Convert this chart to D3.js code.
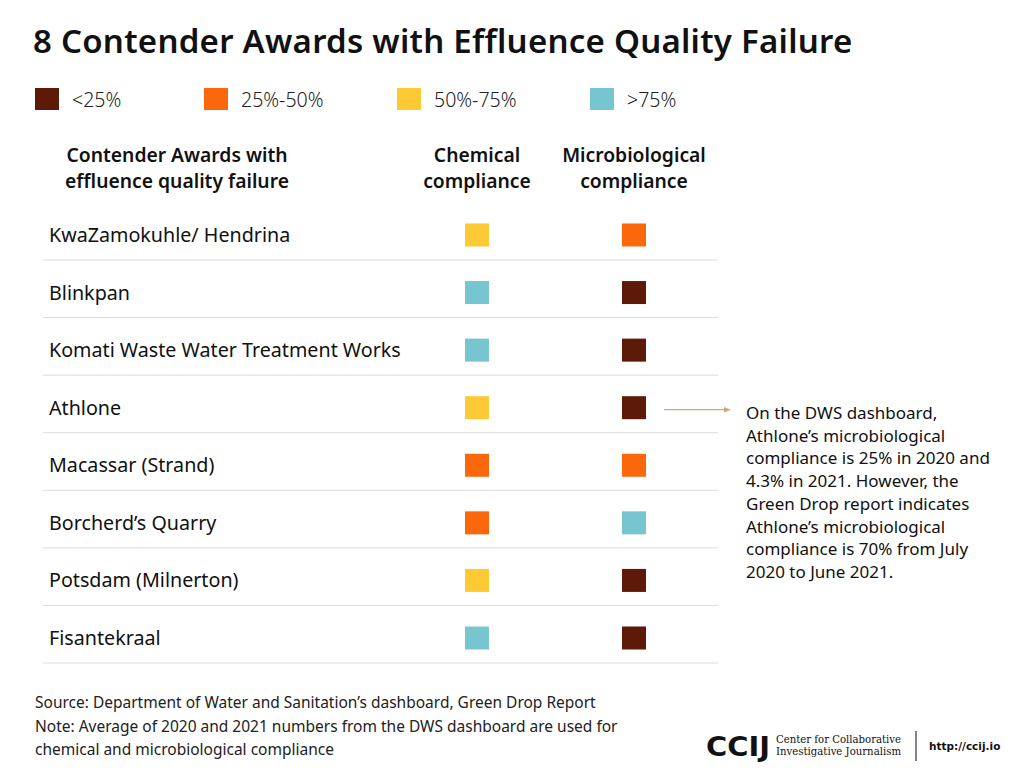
<!DOCTYPE html>
<html><head><meta charset="utf-8">
<script src="https://cdn.jsdelivr.net/npm/d3@7"></script>
<style>
body{margin:0;background:#fff;}
svg{display:block;}
</style></head>
<body>
<svg id="chart" width="1024" height="781"></svg>
<script>
const title = "8 Contender Awards with Effluence Quality Failure";
const legendLabels = ["<25%", "25%-50%", "50%-75%", ">75%"];
const legendColors = ["#5e1a09", "#fb670b", "#fdc935", "#76c5d0"];
const categories = ["KwaZamokuhle/ Hendrina", "Blinkpan", "Komati Waste Water Treatment Works", "Athlone", "Macassar (Strand)", "Borcherd’s Quarry", "Potsdam (Milnerton)", "Fisantekraal"];
const chemical = ["50%-75%", ">75%", ">75%", "50%-75%", "25%-50%", "25%-50%", "50%-75%", ">75%"];
const microbiological = ["25%-50%", "<25%", "<25%", "<25%", "25%-50%", ">75%", "<25%", "<25%"];
const columns = [["Chemical", "compliance"], ["Microbiological", "compliance"]];
const nameHeader = ["Contender Awards with", "effluence quality failure"];
const annotationTarget = "Athlone";
const annotation = ["On the DWS dashboard,", "Athlone’s microbiological", "compliance is 25% in 2020 and", "4.3% in 2021. However, the", "Green Drop report indicates", "Athlone’s microbiological", "compliance is 70% from July", "2020 to June 2021."];
const footer = ["Source: Department of Water and Sanitation’s dashboard, Green Drop Report", "Note: Average of 2020 and 2021 numbers from the DWS dashboard are used for", "chemical and microbiological compliance"];

const font = "'Source Sans Pro','Noto Sans',sans-serif";
const svg = d3.select("#chart");
const color = d3.scaleOrdinal().domain(legendLabels).range(legendColors);

svg.append("text").attr("x", 33).attr("y", 53).attr("font-family", font)
  .attr("font-size", 33).attr("font-weight", 600).attr("letter-spacing", 0.25)
  .attr("fill", "#111").text(title);

// legend
const lx = d3.scaleOrdinal().domain(legendLabels).range([35, 204, 397, 590]);
const lg = svg.append("g").selectAll("g").data(legendLabels).join("g")
  .attr("transform", d => `translate(${lx(d)},88)`);
lg.append("rect").attr("width", 24).attr("height", 22).attr("fill", d => color(d));
lg.append("text").attr("x", 37).attr("y", 19).attr("font-family", font).attr("font-size", 19.5)
  .attr("font-weight", 300).attr("fill", "#222").text(d => d);

// headers
const colX = d3.scalePoint().domain(["chem", "micro"]).range([477, 634]);
function header(lines, x) {
  const t = svg.append("text").attr("font-family", font).attr("font-size", 19.3)
    .attr("font-weight", 600).attr("fill", "#111").attr("text-anchor", "middle");
  lines.forEach((l, i) => t.append("tspan").attr("x", x).attr("y", 162 + i * 25.5).text(l));
}
header(nameHeader, 177);
header(columns[0], colX("chem"));
header(columns[1], colX("micro"));

// rows
const y = d3.scaleBand().domain(categories).range([202.4, 663]);
const bw = y.bandwidth();
const rows = svg.append("g").selectAll("g").data(categories).join("g")
  .attr("transform", d => `translate(0,${y(d)})`);
rows.append("line").attr("x1", 43).attr("x2", 718).attr("y1", bw).attr("y2", bw)
  .attr("stroke", "#dcdcdc").attr("stroke-width", 1);
rows.append("text").attr("x", 49).attr("y", bw - 18).attr("font-family", font)
  .attr("font-size", 19.7).attr("fill", "#111").text(d => d);
const sq = 24, sqh = 23, cy = bw - 25;
rows.append("rect").attr("x", colX("chem") - sq / 2).attr("y", cy - sqh / 2)
  .attr("width", sq).attr("height", sqh).attr("fill", (d, i) => color(chemical[i]));
rows.append("rect").attr("x", colX("micro") - sq / 2).attr("y", cy - sqh / 2)
  .attr("width", sq).attr("height", sqh).attr("fill", (d, i) => color(microbiological[i]));

// annotation arrow
const ay = y(annotationTarget) + cy + 2;
svg.append("defs").append("marker").attr("id", "ah").attr("viewBox", "0 0 10 10")
  .attr("refX", 9).attr("refY", 5).attr("markerWidth", 6).attr("markerHeight", 6).attr("orient", "auto")
  .append("path").attr("d", "M0,1L10,5L0,9Z").attr("fill", "#c8aa7c");
svg.append("line").attr("x1", 664).attr("x2", 730).attr("y1", ay).attr("y2", ay)
  .attr("stroke", "#c8aa7c").attr("stroke-width", 1.2).attr("marker-end", "url(#ah)");
const at = svg.append("text").attr("font-family", font).attr("font-size", 17).attr("fill", "#111");
annotation.forEach((l, i) => at.append("tspan").attr("x", 746).attr("y", 419 + i * 22.7).text(l));

// footer
const ft = svg.append("text").attr("font-family", font).attr("font-size", 15.5).attr("fill", "#222");
footer.forEach((l, i) => ft.append("tspan").attr("x", 35).attr("y", 708 + i * 23.5).text(l));

// logo
svg.append("text").attr("x", 706).attr("y", 756).attr("font-family", "'DejaVu Sans',sans-serif")
  .attr("font-size", 26).attr("font-weight", 700).attr("fill", "#111").attr("textLength", 64)
  .attr("lengthAdjust", "spacingAndGlyphs").text("CCIJ");
const lt = svg.append("text").attr("font-family", "'DejaVu Serif',serif").attr("font-size", 10.5).attr("fill", "#111");
lt.append("tspan").attr("x", 776).attr("y", 743).attr("textLength", 125).attr("lengthAdjust", "spacingAndGlyphs").text("Center for Collaborative");
lt.append("tspan").attr("x", 776).attr("y", 755).attr("textLength", 125).attr("lengthAdjust", "spacingAndGlyphs").text("Investigative Journalism");
svg.append("line").attr("x1", 916).attr("x2", 916).attr("y1", 731).attr("y2", 761).attr("stroke", "#333").attr("stroke-width", 1.2);
svg.append("text").attr("x", 929).attr("y", 750).attr("font-family", "'DejaVu Sans',sans-serif")
  .attr("font-size", 10.5).attr("font-weight", 600).attr("fill", "#111").text("http://ccij.io");
</script>
</body></html>
